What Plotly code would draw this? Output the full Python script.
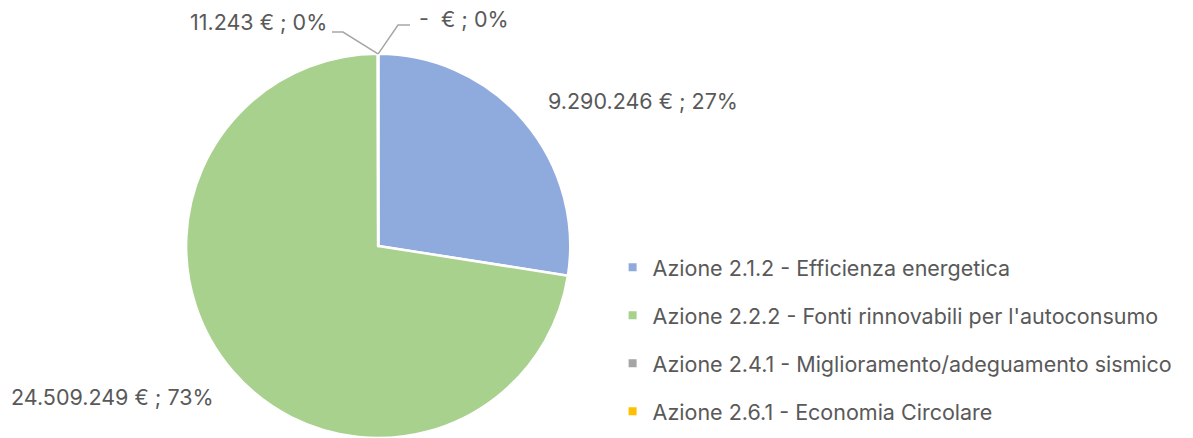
import math
import plotly.graph_objects as go

categories = [
    "Azione 2.1.2 - Efficienza energetica",
    "Azione 2.2.2 - Fonti rinnovabili per l'autoconsumo",
    "Azione 2.4.1 - Miglioramento/adeguamento sismico",
    "Azione 2.6.1 - Economia Circolare",
]
values = [9290246, 24509249, 11243, 0]
value_labels = ["9.290.246 € ; 27%", "24.509.249 € ; 73%", "11.243 € ; 0%", "-  € ; 0%"]
colors = ["#8FAADC", "#A9D18E", "#A5A5A5", "#FFC000"]

W, H = 1193, 438
FONT = "Inter"
FS_LEG = 21.5
FS_LAB = 21.5
TXT = "#595959"

# pie geometry (pixels)
dom_x = [0.155, 0.479]
dom_y = [0.0, 0.877]
pw = (dom_x[1] - dom_x[0]) * W
ph = (dom_y[1] - dom_y[0]) * H
r = min(pw, ph) / 2
cx = (dom_x[0] + dom_x[1]) / 2 * W
cy_b = (dom_y[0] + dom_y[1]) / 2 * H  # from bottom

fig = go.Figure()
fig.add_trace(go.Pie(
    labels=categories, values=values, sort=False, direction="clockwise",
    rotation=0, marker=dict(colors=colors, line=dict(color="white", width=2.5)),
    textinfo="none", hoverinfo="label+value+percent", showlegend=False,
    domain=dict(x=dom_x, y=dom_y),
))

for c, col in zip(categories, colors):
    fig.add_trace(go.Scatter(
        x=[None], y=[None], mode="markers", name=c, legendgroup=c,
        marker=dict(symbol="square", size=8, color=col),
    ))

def px2paper(x, y_top):
    return x / W, 1 - y_top / H

total = sum(values)
cum = 0
angles = []
for v in values:
    mid = (cum + v / 2) / total
    angles.append(mid * 2 * math.pi)
    cum += v

annotations = []
shapes = []
pos_big = [(643, 101), (112, 397)]
for i in range(2):
    x, y = pos_big[i]
    px, py = px2paper(x, y)
    annotations.append(dict(x=px, y=py, xref="paper", yref="paper", text=value_labels[i],
                            showarrow=False, xanchor="center", yanchor="middle",
                            font=dict(family=FONT, size=FS_LAB, color=TXT)))

for i, (lx, ly, bx, anchor, tx, ty) in zip([2, 3], [
    (332, 32, 343, "right", 329, 22),
    (410, 25, 398, "left", 417, 19),
]):
    ang = angles[i]
    tipx = cx + r * math.sin(ang)
    tipy = (H - cy_b) - r * math.cos(ang)
    pts = [(tipx, tipy), (bx, ly), (lx, ly)]
    path = "M " + " L ".join(f"{p[0]/W:.5f},{1 - p[1]/H:.5f}" for p in pts)
    shapes.append(dict(type="path", path=path, xref="paper", yref="paper",
                       line=dict(color="#A6A6A6", width=1.5)))
    px, py = px2paper(tx, ty)
    annotations.append(dict(x=px, y=py, xref="paper", yref="paper", text=value_labels[i],
                            showarrow=False, xanchor=anchor, yanchor="middle",
                            font=dict(family=FONT, size=FS_LAB, color=TXT)))

fig.update_layout(
    width=W, height=H, margin=dict(l=0, r=0, t=0, b=0),
    paper_bgcolor="white", plot_bgcolor="white",
    xaxis=dict(visible=False), yaxis=dict(visible=False),
    legend=dict(x=0.5135, y=0.4365, xanchor="left", yanchor="top",
                font=dict(family=FONT, size=FS_LEG, color=TXT),
                tracegroupgap=17, bgcolor="rgba(0,0,0,0)"),
    annotations=annotations, shapes=shapes,
)

fig.write_html("out.html", config={"displayModeBar": False},
               post_script="document.body.style.margin='0';")
